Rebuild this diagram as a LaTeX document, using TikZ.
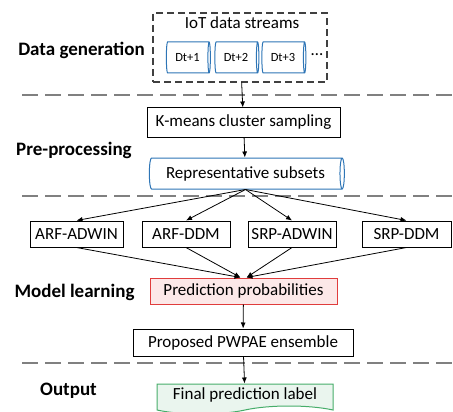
\documentclass[tikz,border=0pt]{standalone}
\usepackage{fontspec}
\setmainfont{Carlito}
\usepackage{xcolor}
\usetikzlibrary{arrows.meta,shapes.geometric,shapes.symbols}
\definecolor{tubeblue}{HTML}{2E75B6}
\definecolor{redline}{HTML}{E03C3C}
\definecolor{redfill}{HTML}{FCE8E8}
\definecolor{greenline}{HTML}{47AD6A}
\definecolor{greenfill}{HTML}{EAF5EE}
\definecolor{sepgray}{HTML}{808080}
\definecolor{boxgray}{HTML}{404040}
\tikzset{
  txt/.style={font=\fontsize{17}{20}\selectfont},
  small/.style={font=\fontsize{12.5}{14}\selectfont},
  phase/.style={font=\bfseries\fontsize{19}{22}\selectfont},
  box/.style={txt, draw=black, line width=1pt, minimum height=27pt, inner xsep=5pt},
  tube/.style={cylinder, draw=tubeblue, line width=1pt, fill=white, aspect=0.3,
    inner sep=0pt},
  databox/.style={draw=boxgray, dash pattern=on 7pt off 4pt, line width=1.3pt},
  sepline/.style={draw=sepgray, dash pattern=on 16pt off 7pt, line width=1.4pt},
  arr/.style={-{Latex[length=6pt,width=5pt]}, line width=0.8pt}
}

\begin{document}
\begin{tikzpicture}[x=1pt, y=-1pt]
  \useasboundingbox (0,0) rectangle (453,412);

  % phases
  \node[phase] (gen) at (81.5,50) {Data generation};
  \node[phase] (pre) at (74,150) {Pre-processing};
  \node[phase] (learn) at (74.5,292) {Model learning};
  \node[phase] (out) at (68.5,391) {Output};

  % separators
  \foreach \y in {95,196,363}{
    \draw[sepline] (22,\y) -- (453,\y);
  }

  % data streams
  \node[databox, minimum width=174pt, minimum height=69pt] (streams) at (240,47.5) {};
  \node[txt] (iot) at (242,23) {IoT data streams};
  \foreach \i/\x in {1/187.5,2/236,3/283}{
    \node[tube, small, minimum width=31pt, minimum height=44pt] (dt\i) at (\x,57.5) {Dt+\i};
  }
  \node[txt] (dots) at (317,55) {\dots};

  % pre-processing
  \node[box, minimum width=193pt, minimum height=29pt] (kmeans) at (243.5,122.5) {K-means cluster sampling};
  \node[tube, txt, minimum width=31pt, minimum height=195pt] (subsets) at (245.5,173.5) {Representative subsets};

  % models
  \foreach \n/\t/\x/\w in {aa/ARF-ADWIN/76.5/93,ad/ARF-DDM/186/88,sa/SRP-ADWIN/292/88,sd/SRP-DDM/406.5/89}{
    \node[box, minimum width=\w pt, minimum height=26pt, inner xsep=3pt] (\n) at (\x,234) {\t};
  }
  \node[box, draw=redline, fill=redfill, minimum width=187pt, minimum height=26pt] (prob) at (243.5,291) {Prediction probabilities};
  \node[box, minimum width=220pt, minimum height=27pt] (pwpae) at (243,342.5) {Proposed PWPAE ensemble};

  % output
  \node[txt, tape, tape bend top=none, tape bend bottom=in and out, tape bend height=8pt,
    draw=greenline, fill=greenfill, line width=1pt, minimum width=176pt, minimum height=30pt] (final) at (245,395) {Final prediction label};

  % connectors
  \draw[arr] (streams) -- (kmeans);
  \draw[arr] (kmeans) -- (subsets);
  \foreach \n in {aa,ad,sa,sd}{
    \draw[arr] (subsets.south) -- (\n.north);
  }
  \draw[arr] (aa.south) -- ([xshift=-3pt]prob.north);
  \draw[arr] (ad.south) -- ([xshift=-3pt]prob.north);
  \draw[arr] (sa.south) -- ([xshift=3pt]prob.north);
  \draw[arr] (sd.south) -- ([xshift=3pt]prob.north);
  \draw[arr] (prob) -- (pwpae);
  \draw[arr] (pwpae) -- (final);
\end{tikzpicture}
\end{document}
